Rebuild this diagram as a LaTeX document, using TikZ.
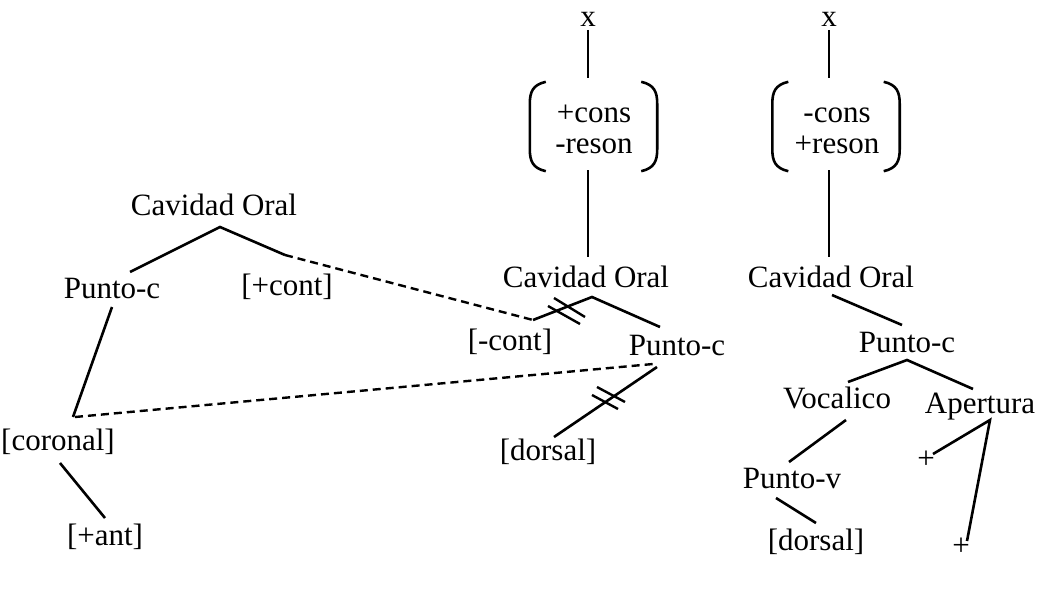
\documentclass[tikz,border=0pt]{standalone}
\usepackage{fontspec}
\setmainfont{Liberation Serif}
\usetikzlibrary{calc}
\newcommand\lblfont{\fontsize{31}{33}\selectfont}
\newcommand\drawparens[1]{%
  \draw[paren] ($(#1.north west)+(16,0)$) .. controls ($(#1.north west)+(3,3)$) and ($(#1.north west)+(0,10)$) .. ($(#1.north west)+(0,22)$)
    -- ($(#1.south west)+(0,-22)$) .. controls ($(#1.south west)+(0,-10)$) and ($(#1.south west)+(3,-3)$) .. ($(#1.south west)+(16,0)$);
  \draw[paren] ($(#1.north east)+(-16,0)$) .. controls ($(#1.north east)+(-3,3)$) and ($(#1.north east)+(0,10)$) .. ($(#1.north east)+(0,22)$)
    -- ($(#1.south east)+(0,-22)$) .. controls ($(#1.south east)+(0,-10)$) and ($(#1.south east)+(-3,-3)$) .. ($(#1.south east)+(-16,0)$);
}
\begin{document}
\begin{tikzpicture}[x=1pt,y=-1pt,
  lab/.style={inner sep=0pt, font=\lblfont, anchor=base},
  edge/.style={line width=2.6pt},
  slash/.style={line width=2.4pt},
  dsh/.style={line width=2.4pt, dash pattern=on 8pt off 5pt},
  paren/.style={line width=2.6pt},
  brk/.style={minimum width=127pt, minimum height=89pt, inner sep=0pt}]
\useasboundingbox (0,0) rectangle (1043,591);

% top parts
\node[lab] (x1) at (588,27) {x};
\node[lab] (x2) at (829,27) {x};
\node[brk] (b1) at (593.5,126.5) {};
\node[brk] (b2) at (836,126.5) {};
\node[lab] (cons1) at (594,122) {+cons};
\node[lab] (reson1) at (594,153) {-reson};
\node[lab] (cons2) at (837,122) {-cons};
\node[lab] (reson2) at (837,153) {+reson};
\drawparens{b1}
\drawparens{b2}

% middle tree
\node[lab] (coM) at (586,287) {Cavidad Oral};
\node[lab] (mcont) at (510,350) {[-cont]};
\node[lab] (pcM) at (677,355) {Punto-c};
\node[lab] (dorM) at (548,460) {[dorsal]};

% left tree
\node[lab] (coL) at (214,215) {Cavidad Oral};
\node[lab] (pcL) at (112,298) {Punto-c};
\node[lab] (pcont) at (287,295) {[+cont]};
\node[lab] (cor) at (58,450) {[coronal]};
\node[lab] (ant) at (105,545) {[+ant]};

% right tree
\node[lab] (coR) at (831,287) {Cavidad Oral};
\node[lab] (pcR) at (907,352) {Punto-c};
\node[lab] (voc) at (837,408) {Vocalico};
\node[lab] (ape) at (980,413) {Apertura};
\node[lab] (pv) at (792,488) {Punto-v};
\node[lab] (dorR) at (816,550) {[dorsal]};
\node[lab] (plus1) at (926,468) {+};
\node[lab] (plus2) at (961,555) {+};

% vertical lines
\draw[edge] ($(x1.base)+(0,3)$) -- ($(b1.north)+(-5.5,-4)$);
\draw[edge] ($(b1.south)+(-5.5,-1)$) -- ($(coM.base)+(2,-30)$);
\draw[edge] ($(x2.base)+(0,3)$) -- ($(b2.north)+(-7,-4)$);
\draw[edge] ($(b2.south)+(-7,-1)$) -- ($(coR.base)+(-2,-30)$);

% middle tree edges
\draw[edge] ($(mcont.base)+(23,-30)$) -- ($(coM.base)+(6,10)$) -- ($(pcM.base)+(-17,-28)$);
\draw[edge] ($(pcM.base)+(-20,12)$) -- ($(dorM.base)+(6,-23)$);
\draw[slash] (554,298) -- (585,317);
\draw[slash] (548,306) -- (580,324);
\draw[slash] (597,387) -- (625,402);
\draw[slash] (592,395) -- (618,409);

% left tree edges
\draw[edge] ($(pcL.base)+(18,-26)$) -- ($(coL.base)+(6,12)$) -- ($(pcont.base)+(-2,-40)$);
\draw[edge] ($(pcL.base)+(0,9)$) -- ($(cor.base)+(15,-33)$);
\draw[edge] ($(cor.base)+(2,13)$) -- ($(ant.base)+(0,-27)$);
\draw[dsh] ($(pcont.base)+(-2,-40)$) -- ($(mcont.base)+(23,-30)$);
\draw[dsh] ($(cor.base)+(17,-33)$) -- ($(pcM.base)+(-24,9)$);

% right tree edges
\draw[edge] ($(coR.base)+(1,8)$) -- ($(pcR.base)+(-5,-27)$);
\draw[edge] ($(voc.base)+(11,-26)$) -- ($(pcR.base)+(0,8)$) -- ($(ape.base)+(-7,-24)$);
\draw[edge] ($(voc.base)+(9,12)$) -- ($(pv.base)+(-3,-26)$);
\draw[edge] ($(pv.base)+(-16,10)$) -- ($(dorR.base)+(0,-27)$);
\draw[edge] ($(plus1.base)+(7,-14)$) -- ($(ape.base)+(10,7)$) -- ($(plus2.base)+(6,-14)$);
\end{tikzpicture}
\end{document}
